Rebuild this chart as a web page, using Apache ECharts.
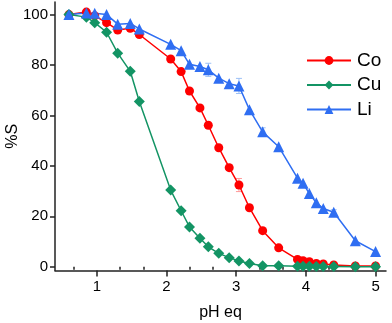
<!DOCTYPE html>
<html>
<head>
<meta charset="utf-8">
<script src="https://cdn.jsdelivr.net/npm/echarts@6/dist/echarts.min.js"></script>
<style>
  html, body { margin: 0; padding: 0; background: #fff; }
  #main { width: 392px; height: 323px; }
</style>
</head>
<body>
<div id="main"></div>
<script>
  // pH values (shared by all three metals)
  var phEq = [0.60, 0.85, 0.97, 1.14, 1.30, 1.48, 1.61, 2.06, 2.21, 2.33, 2.48, 2.60, 2.75,
              2.90, 3.04, 3.19, 3.38, 3.61, 3.88, 3.96, 4.05, 4.15, 4.25, 4.40, 4.71, 5.00];
  var coS = [100, 101, 99.5, 96.8, 93.9, 94.6, 92.1, 82.4, 77.4, 69.7, 63.0, 56.1, 47.2,
             39.3, 32.4, 23.4, 14.3, 7.5, 2.9, 2.4, 2.0, 1.3, 1.1, 0.7, 0.3, 0.3];
  var cuS = [100, 99.0, 96.8, 93.0, 84.7, 77.5, 65.5, 30.4, 22.2, 15.8, 11.3, 7.9, 5.3,
             3.6, 2.3, 1.3, 0.4, 0.4, 0.2, 0.2, 0.2, 0.1, 0.1, 0.1, 0, 0];
  var liS = [100, 100.6, 100.5, 100, 96.2, 96.5, 94.3, 88.2, 85.7, 80.3, 79.4, 78.1, 74.8,
             72.6, 71.7, 62.3, 53.5, 47.6, 35.1, 33.1, 29.0, 25.4, 23.1, 21.6, 10.3, 6.0];

  // error bars (x, half width)
  var liErrX = [2.60, 3.04, 3.38, 4.40];
  var liErr = [2.6, 3.0, 1.6, 1.0];
  var coErrX = [3.04];
  var coErr = [2.6];

  var xMajor = [1, 2, 3, 4, 5];
  var xMinor = [0.667, 1.333, 1.667, 2.333, 2.667, 3.333, 3.667, 4.333, 4.667];
  var yMajor = [0, 20, 40, 60, 80, 100];

  var names = ['Co', 'Cu', 'Li'];
  var colors = ['#ff0000', '#139464', '#2f6ef2'];
  var errColors = ['#ff9a9a', '#9cc0f6'];

  function pairs(xs, ys) {
    return xs.map(function(x, i) { return [x, ys[i]]; });
  }

  function errData(xs, ys, errs) {
    return xs.map(function(x, i) {
      var y = ys[phEq.indexOf(x)];
      return [x, y - errs[i], y + errs[i]];
    });
  }

  function errRender(color) {
    return function(params, api) {
      var lo = api.coord([api.value(0), api.value(1)]);
      var hi = api.coord([api.value(0), api.value(2)]);
      var w = 3;
      var style = { stroke: color, lineWidth: 1 };
      return {
        type: 'group',
        children: [
          { type: 'line', shape: { x1: lo[0], y1: lo[1], x2: hi[0], y2: hi[1] }, style: style },
          { type: 'line', shape: { x1: lo[0] - w, y1: lo[1], x2: lo[0] + w, y2: lo[1] }, style: style },
          { type: 'line', shape: { x1: hi[0] - w, y1: hi[1], x2: hi[0] + w, y2: hi[1] }, style: style }
        ]
      };
    };
  }

  var axisFont = { color: '#000', fontFamily: 'Liberation Sans', fontSize: 15 };
  var axisLineStyle = { color: '#222', width: 1.5 };

  var lineSeries = function(name, ys, color, symbol, size) {
    return {
      name: name,
      type: 'line',
      data: pairs(phEq, ys),
      symbol: symbol,
      symbolSize: size,
      color: color,
      lineStyle: { width: 1.5, color: color },
      itemStyle: { color: color },
      z: 3
    };
  };

  var chart = echarts.init(document.getElementById('main'), null, { renderer: 'canvas' });

  chart.setOption({
    animation: false,
    grid: { left: 55, right: 6, top: 2, bottom: 52.5, containLabel: false, outerBoundsMode: 'none' },
    legend: {
      data: names,
      orient: 'vertical',
      left: 306,
      top: 51,
      padding: 0,
      itemWidth: 44,
      itemHeight: 11,
      itemGap: 5.5,
      textStyle: { fontFamily: 'Liberation Sans', fontSize: 19, color: '#000', padding: [0, 0, 0, 1] }
    },
    xAxis: [{
      type: 'value',
      min: 0.4,
      max: 5.15,
      name: 'pH eq',
      nameLocation: 'middle',
      nameGap: 34,
      nameTextStyle: { fontFamily: 'Liberation Sans', fontSize: 16, color: '#000' },
      axisLine: { onZero: false, lineStyle: axisLineStyle },
      axisTick: { show: true, length: 6, lineStyle: axisLineStyle, customValues: xMajor },
      axisLabel: Object.assign({ margin: 9, customValues: xMajor }, axisFont),
      splitLine: { show: false }
    }, {
      type: 'value',
      position: 'bottom',
      min: 0.4,
      max: 5.15,
      axisLine: { show: false },
      axisTick: { show: true, length: 3, lineStyle: axisLineStyle, customValues: xMinor },
      axisLabel: { show: false },
      splitLine: { show: false }
    }],
    yAxis: {
      type: 'value',
      min: -1.5,
      max: 105,
      name: '%S',
      nameLocation: 'middle',
      nameRotate: 90,
      nameGap: 34,
      nameMoveOverlap: false,
      nameTextStyle: { fontFamily: 'Liberation Sans', fontSize: 16, color: '#000' },
      axisLine: { show: true, onZero: false, lineStyle: axisLineStyle },
      axisTick: { show: true, length: 5, lineStyle: axisLineStyle, customValues: yMajor },
      axisLabel: Object.assign({ margin: 7, customValues: yMajor }, axisFont),
      splitLine: { show: false }
    },
    series: [
      {
        name: 'coErr',
        type: 'custom',
        renderItem: errRender(errColors[0]),
        data: errData(coErrX, coS, coErr),
        encode: { x: 0, y: [1, 2] },
        z: 2
      },
      {
        name: 'liErr',
        type: 'custom',
        renderItem: errRender(errColors[1]),
        data: errData(liErrX, liS, liErr),
        encode: { x: 0, y: [1, 2] },
        z: 2
      },
      lineSeries(names[0], coS, colors[0], 'circle', 9),
      lineSeries(names[1], cuS, colors[1], 'diamond', 11),
      lineSeries(names[2], liS, colors[2], 'triangle', 11)
    ]
  });
</script>
</body>
</html>
